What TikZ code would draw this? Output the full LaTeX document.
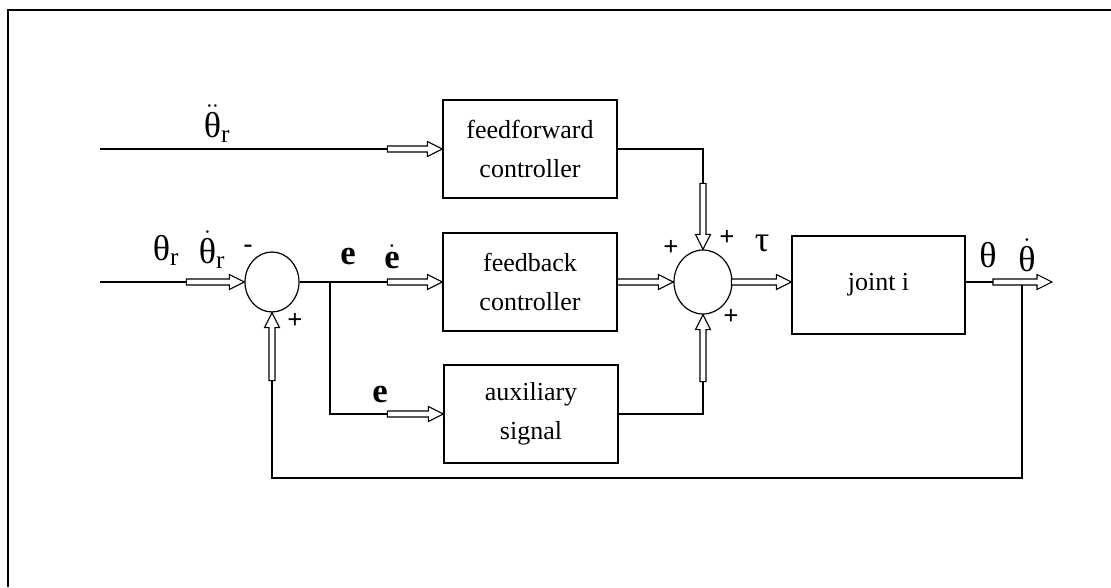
\documentclass[tikz,border=0pt]{standalone}
\usepackage{fontspec}
\usepackage{amsmath}
\setmainfont{Liberation Serif}
\usetikzlibrary{shapes.geometric,calc}
\newcommand{\harrow}[3]{\draw[harr, shift={(#1)}, rotate=#2] (-#3,-3) -- (-15,-3) -- (-15,-7.5) -- (0,0) -- (-15,7.5) -- (-15,3) -- (-#3,3) -- cycle;}
\newcommand{\thT}{\text{θ}}
\begin{document}
\begin{tikzpicture}[x=0.75pt,y=-0.75pt,
 blk/.style={draw,line width=0.9pt,minimum width=130.5pt,minimum height=73.5pt,inner sep=0pt,align=center,font=\fontsize{19.5}{29}\selectfont},
 sumj/.style={draw,ellipse,line width=0.9pt,inner sep=0pt},
 ln/.style={line width=0.8pt},
 harr/.style={draw,fill=white,line width=0.8pt,line join=miter},
 lbl/.style={font=\fontsize{27}{30}\selectfont,inner sep=0pt},
 lble/.style={font=\fontsize{26}{30}\selectfont\bfseries,inner sep=0pt},
 sgn/.style={font=\fontsize{20}{22}\selectfont\bfseries,inner sep=0pt}]
\useasboundingbox (0,0) rectangle (1111,587);
\draw[line width=1.6pt] (8,587) -- (8,10) -- (1111,10);

% blocks
\node[blk] (ff) at (530,149) {feedforward\\controller};
\node[blk] (fb) at (530,282) {feedback\\controller};
\node[blk] (aux) at (531,414) {auxiliary\\signal};
\node[blk, minimum width=129.75pt] (joint) at (878.5,285) {joint i};
\node[sumj,minimum width=40.5pt,minimum height=45pt] (s1) at (272,282) {};
\node[sumj,minimum width=43.5pt,minimum height=48pt] (s2) at (703,282) {};

% coordinates
\coordinate (in1) at (100,149);
\coordinate (in2) at (100,282);
\coordinate (b1) at (330,282);
\coordinate (jin) at (s2.east -| joint.west);
\coordinate (jout) at (s2.east -| joint.east);
\coordinate (out) at (1052,282);
\coordinate (b2) at (1022,282);
\coordinate (fbk) at (1022,478);

% connectors
\draw[ln] (in1) -- (ff.west);
\draw[ln] (in2) -- (s1.west);
\draw[ln] (s1.east) -- (fb.west);
\draw[ln] (b1) |- (aux.west);
\draw[ln] (fb.east) -- (s2.west);
\draw[ln] (ff.east) -| (s2.north);
\draw[ln] (aux.east) -| (s2.south);
\draw[ln] (s2.east) -- (jin);
\draw[ln] (jout) -- (out);
\draw[ln] (b2) -- (fbk) -| (s1.south);

% hollow arrows
\harrow{ff.west}{0}{55}
\harrow{s1.west}{0}{58}
\harrow{fb.west}{0}{55}
\harrow{aux.west}{0}{56}
\harrow{s2.west}{0}{56}
\harrow{s2.north}{-90}{66}
\harrow{s2.south}{90}{67}
\harrow{jin}{0}{60}
\harrow{out}{0}{59}
\harrow{s1.south}{90}{68}

% labels
\node[lbl] (l1) at (217,124) {$\ddot{\thT}_{\text{r}}$};
\node[lbl] (l2) at (166,250) {$\thT_{\text{r}}$};
\node[lbl] (l3) at (212,250) {$\dot{\thT}_{\text{r}}$};
\node[sgn] (m1) at (248,249) {-};
\node[sgn] (p1) at (295,321) {+};
\node[lble] (le1) at (348,257) {e};
\node[lble] (le2) at (392,257) {$\dot{\text{e}}$};
\node[lble] (le3) at (380,394) {e};
\node[sgn] (p2) at (671,248) {+};
\node[sgn] (p3) at (727,238) {+};
\node[sgn] (p4) at (731,317) {+};
\node[lbl] (ltau) at (762,243) {τ};
\node[lbl] (lth) at (988,255) {θ};
\node[lbl] (lthd) at (1027,255) {$\dot{\thT}$};
\end{tikzpicture}
\end{document}
